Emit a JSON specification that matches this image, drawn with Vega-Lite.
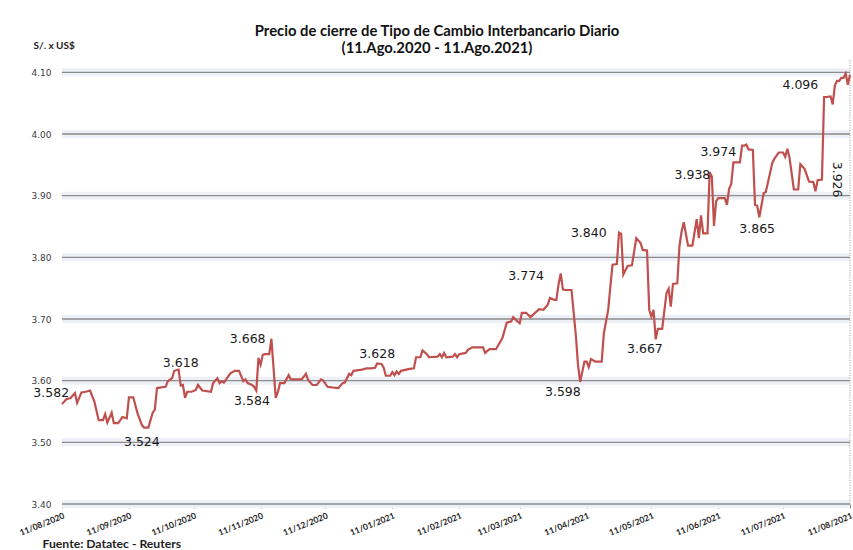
{
  "$schema": "https://vega.github.io/schema/vega-lite/v6.json",
  "width": 788,
  "height": 444,
  "autosize": {"type": "none"},
  "padding": {"left": 62, "top": 60, "right": 3, "bottom": 46},
  "background": "white",
  "config": {
    "view": {"stroke": null},
    "axisY": {
      "format": ".2f",
      "grid": false, "domain": false, "ticks": false,
      "labelFont": "DejaVu Sans", "labelFontSize": 9, "labelColor": "#404040", "labelPadding": 11,
      "titleAngle": 0, "titleX": -29, "titleY": -15,
      "titleAlign": "left", "titleBaseline": "middle",
      "titleFont": "Lato", "titleFontSize": 10, "titleFontWeight": "bold", "titleColor": "#222222"
    },
    "axisX": {
      "format": "%d/%m/%Y",
      "labelAngle": -22, "labelAlign": "right", "labelBaseline": "top",
      "labelFont": "Lato", "labelFontWeight": "bold", "labelFontSize": 8.5, "labelColor": "#222222",
      "labelPadding": 3, "labelOverlap": false, "labelBound": false,
      "tickSize": 4, "tickColor": "#8c8c8c", "domain": false, "grid": false,
      "titleX": -20, "titleY": 39,
      "titleAlign": "left", "titleBaseline": "middle",
      "titleFont": "Lato", "titleFontSize": 12.2, "titleFontWeight": "bold", "titleColor": "#222222"
    }
  },
  "title": {
    "text": ["Precio de cierre de Tipo de Cambio Interbancario  Diario", "(11.Ago.2020 - 11.Ago.2021)"],
    "font": "Lato",
    "fontSize": 14.8,
    "fontWeight": "bold",
    "color": "#111111",
    "lineHeight": 17,
    "anchor": "middle",
    "dx": -19,
    "offset": -16
  },
  "datasets": {
    "grid": [{"v": 3.4}, {"v": 3.5}, {"v": 3.6}, {"v": 3.7}, {"v": 3.8}, {"v": 3.9}, {"v": 4.0}, {"v": 4.1}],
    "edge": [{"d": "2021-08-11"}],
    "series": [
      {"d": "2020-08-11", "v": 3.562}, {"d": "2020-08-13", "v": 3.570}, {"d": "2020-08-15", "v": 3.572}, {"d": "2020-08-17", "v": 3.580},
      {"d": "2020-08-18", "v": 3.564}, {"d": "2020-08-20", "v": 3.581}, {"d": "2020-08-22", "v": 3.582}, {"d": "2020-08-24", "v": 3.584},
      {"d": "2020-08-26", "v": 3.566}, {"d": "2020-08-28", "v": 3.536}, {"d": "2020-08-30", "v": 3.536}, {"d": "2020-08-31", "v": 3.546},
      {"d": "2020-09-01", "v": 3.532}, {"d": "2020-09-03", "v": 3.548}, {"d": "2020-09-04", "v": 3.531}, {"d": "2020-09-06", "v": 3.531},
      {"d": "2020-09-08", "v": 3.541}, {"d": "2020-09-10", "v": 3.539}, {"d": "2020-09-11", "v": 3.573}, {"d": "2020-09-13", "v": 3.573},
      {"d": "2020-09-15", "v": 3.547}, {"d": "2020-09-17", "v": 3.528}, {"d": "2020-09-18", "v": 3.524}, {"d": "2020-09-20", "v": 3.524},
      {"d": "2020-09-22", "v": 3.548}, {"d": "2020-09-23", "v": 3.553}, {"d": "2020-09-24", "v": 3.588}, {"d": "2020-09-26", "v": 3.589},
      {"d": "2020-09-28", "v": 3.590}, {"d": "2020-09-29", "v": 3.599}, {"d": "2020-10-01", "v": 3.604}, {"d": "2020-10-02", "v": 3.616},
      {"d": "2020-10-04", "v": 3.618}, {"d": "2020-10-05", "v": 3.592}, {"d": "2020-10-06", "v": 3.593}, {"d": "2020-10-07", "v": 3.572},
      {"d": "2020-10-08", "v": 3.582}, {"d": "2020-10-10", "v": 3.582}, {"d": "2020-10-12", "v": 3.585}, {"d": "2020-10-13", "v": 3.593},
      {"d": "2020-10-15", "v": 3.584}, {"d": "2020-10-19", "v": 3.582}, {"d": "2020-10-20", "v": 3.596}, {"d": "2020-10-22", "v": 3.604},
      {"d": "2020-10-23", "v": 3.596}, {"d": "2020-10-24", "v": 3.599}, {"d": "2020-10-25", "v": 3.597}, {"d": "2020-10-27", "v": 3.607},
      {"d": "2020-10-28", "v": 3.612}, {"d": "2020-10-30", "v": 3.616}, {"d": "2020-11-01", "v": 3.616}, {"d": "2020-11-03", "v": 3.599},
      {"d": "2020-11-04", "v": 3.602}, {"d": "2020-11-05", "v": 3.596}, {"d": "2020-11-07", "v": 3.593}, {"d": "2020-11-08", "v": 3.590},
      {"d": "2020-11-09", "v": 3.584}, {"d": "2020-11-10", "v": 3.637}, {"d": "2020-11-11", "v": 3.626}, {"d": "2020-11-12", "v": 3.642},
      {"d": "2020-11-13", "v": 3.643}, {"d": "2020-11-15", "v": 3.643}, {"d": "2020-11-16", "v": 3.668}, {"d": "2020-11-17", "v": 3.620},
      {"d": "2020-11-18", "v": 3.572}, {"d": "2020-11-19", "v": 3.582}, {"d": "2020-11-20", "v": 3.596}, {"d": "2020-11-22", "v": 3.596},
      {"d": "2020-11-24", "v": 3.609}, {"d": "2020-11-25", "v": 3.602}, {"d": "2020-11-28", "v": 3.602}, {"d": "2020-11-30", "v": 3.602},
      {"d": "2020-12-02", "v": 3.611}, {"d": "2020-12-03", "v": 3.601}, {"d": "2020-12-05", "v": 3.593}, {"d": "2020-12-07", "v": 3.593},
      {"d": "2020-12-09", "v": 3.602}, {"d": "2020-12-10", "v": 3.600}, {"d": "2020-12-12", "v": 3.590}, {"d": "2020-12-14", "v": 3.589},
      {"d": "2020-12-17", "v": 3.588}, {"d": "2020-12-19", "v": 3.596}, {"d": "2020-12-20", "v": 3.597}, {"d": "2020-12-22", "v": 3.611},
      {"d": "2020-12-23", "v": 3.609}, {"d": "2020-12-24", "v": 3.616}, {"d": "2020-12-28", "v": 3.618}, {"d": "2020-12-30", "v": 3.620},
      {"d": "2021-01-01", "v": 3.620}, {"d": "2021-01-03", "v": 3.621}, {"d": "2021-01-04", "v": 3.628}, {"d": "2021-01-06", "v": 3.627},
      {"d": "2021-01-07", "v": 3.621}, {"d": "2021-01-08", "v": 3.608}, {"d": "2021-01-10", "v": 3.608}, {"d": "2021-01-11", "v": 3.614},
      {"d": "2021-01-12", "v": 3.609}, {"d": "2021-01-13", "v": 3.615}, {"d": "2021-01-14", "v": 3.611}, {"d": "2021-01-15", "v": 3.616},
      {"d": "2021-01-19", "v": 3.619}, {"d": "2021-01-21", "v": 3.620}, {"d": "2021-01-22", "v": 3.638}, {"d": "2021-01-24", "v": 3.638},
      {"d": "2021-01-25", "v": 3.649}, {"d": "2021-01-27", "v": 3.643}, {"d": "2021-01-28", "v": 3.638}, {"d": "2021-02-01", "v": 3.639},
      {"d": "2021-02-02", "v": 3.643}, {"d": "2021-02-03", "v": 3.638}, {"d": "2021-02-04", "v": 3.645}, {"d": "2021-02-05", "v": 3.638},
      {"d": "2021-02-08", "v": 3.639}, {"d": "2021-02-09", "v": 3.643}, {"d": "2021-02-10", "v": 3.638}, {"d": "2021-02-11", "v": 3.643},
      {"d": "2021-02-14", "v": 3.645}, {"d": "2021-02-15", "v": 3.650}, {"d": "2021-02-17", "v": 3.654}, {"d": "2021-02-22", "v": 3.654},
      {"d": "2021-02-23", "v": 3.645}, {"d": "2021-02-25", "v": 3.651}, {"d": "2021-02-28", "v": 3.651}, {"d": "2021-03-03", "v": 3.669},
      {"d": "2021-03-05", "v": 3.694}, {"d": "2021-03-07", "v": 3.696}, {"d": "2021-03-08", "v": 3.703}, {"d": "2021-03-10", "v": 3.696},
      {"d": "2021-03-11", "v": 3.693}, {"d": "2021-03-12", "v": 3.710}, {"d": "2021-03-14", "v": 3.710}, {"d": "2021-03-16", "v": 3.703},
      {"d": "2021-03-20", "v": 3.716}, {"d": "2021-03-22", "v": 3.715}, {"d": "2021-03-24", "v": 3.723}, {"d": "2021-03-25", "v": 3.734},
      {"d": "2021-03-27", "v": 3.731}, {"d": "2021-03-28", "v": 3.731}, {"d": "2021-03-29", "v": 3.756}, {"d": "2021-03-30", "v": 3.774},
      {"d": "2021-03-31", "v": 3.748}, {"d": "2021-04-01", "v": 3.747}, {"d": "2021-04-04", "v": 3.747}, {"d": "2021-04-06", "v": 3.674},
      {"d": "2021-04-07", "v": 3.626}, {"d": "2021-04-08", "v": 3.598}, {"d": "2021-04-10", "v": 3.631}, {"d": "2021-04-11", "v": 3.631},
      {"d": "2021-04-12", "v": 3.622}, {"d": "2021-04-13", "v": 3.635}, {"d": "2021-04-15", "v": 3.631}, {"d": "2021-04-18", "v": 3.631},
      {"d": "2021-04-19", "v": 3.677}, {"d": "2021-04-21", "v": 3.715}, {"d": "2021-04-22", "v": 3.753}, {"d": "2021-04-23", "v": 3.788},
      {"d": "2021-04-25", "v": 3.789}, {"d": "2021-04-26", "v": 3.840}, {"d": "2021-04-27", "v": 3.838}, {"d": "2021-04-28", "v": 3.772},
      {"d": "2021-04-30", "v": 3.786}, {"d": "2021-05-02", "v": 3.787}, {"d": "2021-05-04", "v": 3.831}, {"d": "2021-05-06", "v": 3.823},
      {"d": "2021-05-07", "v": 3.812}, {"d": "2021-05-09", "v": 3.811}, {"d": "2021-05-10", "v": 3.715}, {"d": "2021-05-11", "v": 3.704},
      {"d": "2021-05-12", "v": 3.715}, {"d": "2021-05-13", "v": 3.667}, {"d": "2021-05-14", "v": 3.684}, {"d": "2021-05-16", "v": 3.684},
      {"d": "2021-05-18", "v": 3.742}, {"d": "2021-05-19", "v": 3.749}, {"d": "2021-05-20", "v": 3.720}, {"d": "2021-05-21", "v": 3.757},
      {"d": "2021-05-23", "v": 3.758}, {"d": "2021-05-24", "v": 3.818}, {"d": "2021-05-25", "v": 3.842}, {"d": "2021-05-26", "v": 3.857},
      {"d": "2021-05-28", "v": 3.819}, {"d": "2021-05-30", "v": 3.819}, {"d": "2021-06-01", "v": 3.862}, {"d": "2021-06-02", "v": 3.831},
      {"d": "2021-06-03", "v": 3.868}, {"d": "2021-06-04", "v": 3.839}, {"d": "2021-06-06", "v": 3.839}, {"d": "2021-06-07", "v": 3.938},
      {"d": "2021-06-08", "v": 3.931}, {"d": "2021-06-09", "v": 3.851}, {"d": "2021-06-10", "v": 3.891}, {"d": "2021-06-11", "v": 3.896},
      {"d": "2021-06-14", "v": 3.896}, {"d": "2021-06-15", "v": 3.885}, {"d": "2021-06-16", "v": 3.911}, {"d": "2021-06-17", "v": 3.919},
      {"d": "2021-06-18", "v": 3.954}, {"d": "2021-06-21", "v": 3.954}, {"d": "2021-06-22", "v": 3.981}, {"d": "2021-06-23", "v": 3.981},
      {"d": "2021-06-24", "v": 3.983}, {"d": "2021-06-25", "v": 3.975}, {"d": "2021-06-27", "v": 3.974}, {"d": "2021-06-28", "v": 3.885},
      {"d": "2021-06-29", "v": 3.884}, {"d": "2021-06-30", "v": 3.865}, {"d": "2021-07-02", "v": 3.904}, {"d": "2021-07-03", "v": 3.906},
      {"d": "2021-07-05", "v": 3.937}, {"d": "2021-07-06", "v": 3.953}, {"d": "2021-07-07", "v": 3.960}, {"d": "2021-07-09", "v": 3.970},
      {"d": "2021-07-11", "v": 3.970}, {"d": "2021-07-12", "v": 3.963}, {"d": "2021-07-13", "v": 3.976}, {"d": "2021-07-14", "v": 3.961},
      {"d": "2021-07-16", "v": 3.910}, {"d": "2021-07-18", "v": 3.910}, {"d": "2021-07-19", "v": 3.951}, {"d": "2021-07-21", "v": 3.943},
      {"d": "2021-07-23", "v": 3.923}, {"d": "2021-07-25", "v": 3.922}, {"d": "2021-07-26", "v": 3.907}, {"d": "2021-07-27", "v": 3.925},
      {"d": "2021-07-29", "v": 3.926}, {"d": "2021-07-30", "v": 4.060}, {"d": "2021-07-31", "v": 4.060}, {"d": "2021-08-02", "v": 4.061},
      {"d": "2021-08-03", "v": 4.048}, {"d": "2021-08-04", "v": 4.079}, {"d": "2021-08-05", "v": 4.086}, {"d": "2021-08-06", "v": 4.086},
      {"d": "2021-08-07", "v": 4.091}, {"d": "2021-08-08", "v": 4.091}, {"d": "2021-08-09", "v": 4.098}, {"d": "2021-08-10", "v": 4.080},
      {"d": "2021-08-11", "v": 4.096}
    ],
    "labels": [
      {"d": "2020-08-06", "v": 3.580, "t": "3.582"},
      {"d": "2020-09-17", "v": 3.501, "t": "3.524"},
      {"d": "2020-10-05", "v": 3.629, "t": "3.618"},
      {"d": "2020-11-05", "v": 3.668, "t": "3.668"},
      {"d": "2020-11-07", "v": 3.567, "t": "3.584"},
      {"d": "2021-01-04", "v": 3.644, "t": "3.628"},
      {"d": "2021-03-14", "v": 3.770, "t": "3.774"},
      {"d": "2021-03-31", "v": 3.581, "t": "3.598"},
      {"d": "2021-04-12", "v": 3.839, "t": "3.840"},
      {"d": "2021-05-08", "v": 3.651, "t": "3.667"},
      {"d": "2021-05-30", "v": 3.934, "t": "3.938"},
      {"d": "2021-06-11", "v": 3.971, "t": "3.974"},
      {"d": "2021-06-29", "v": 3.846, "t": "3.865"},
      {"d": "2021-07-19", "v": 4.079, "t": "4.096"}
    ],
    "vlabels": [
      {"d": "2021-08-05", "v": 3.926, "t": "3.926"}
    ]
  },
  "layer": [
    {
      "data": {"name": "grid"},
      "mark": {"type": "rule", "color": "#edf0f6", "strokeWidth": 8},
      "encoding": {
        "y": {
          "field": "v", "type": "quantitative", "title": "S/. x US$",
          "scale": {"domain": [3.4, 4.12], "nice": false, "zero": false},
          "axis": {"values": [3.4, 3.5, 3.6, 3.7, 3.8, 3.9, 4.0, 4.1]}
        }
      }
    },
    {
      "data": {"name": "grid"},
      "mark": {"type": "rule", "color": "#8c8c8c", "strokeWidth": 1.3},
      "encoding": {
        "y": {
          "field": "v", "type": "quantitative", "title": "S/. x US$",
          "scale": {"domain": [3.4, 4.12], "nice": false, "zero": false},
          "axis": {"values": [3.4, 3.5, 3.6, 3.7, 3.8, 3.9, 4.0, 4.1]}
        }
      }
    },
    {
      "data": {"name": "edge"},
      "mark": {"type": "rule", "color": "#9a9a9a", "strokeWidth": 1, "strokeDash": [1, 1.5]},
      "encoding": {
        "x": {
          "field": "d", "type": "temporal", "title": "Fuente: Datatec - Reuters",
          "scale": {"type": "utc", "domain": [{"year": 2020, "month": 8, "date": 11, "utc": true}, {"year": 2021, "month": 8, "date": 11, "utc": true}]},
          "axis": {"values": [
            {"year": 2020, "month": 8, "date": 11, "utc": true}, {"year": 2020, "month": 9, "date": 11, "utc": true},
            {"year": 2020, "month": 10, "date": 11, "utc": true}, {"year": 2020, "month": 11, "date": 11, "utc": true},
            {"year": 2020, "month": 12, "date": 11, "utc": true}, {"year": 2021, "month": 1, "date": 11, "utc": true},
            {"year": 2021, "month": 2, "date": 11, "utc": true}, {"year": 2021, "month": 3, "date": 11, "utc": true},
            {"year": 2021, "month": 4, "date": 11, "utc": true}, {"year": 2021, "month": 5, "date": 11, "utc": true},
            {"year": 2021, "month": 6, "date": 11, "utc": true}, {"year": 2021, "month": 7, "date": 11, "utc": true},
            {"year": 2021, "month": 8, "date": 11, "utc": true}
          ]}
        }
      }
    },
    {
      "data": {"name": "series"},
      "mark": {"type": "line", "color": "#c0504d", "strokeWidth": 2.2},
      "encoding": {
        "x": {
          "field": "d", "type": "temporal", "title": "Fuente: Datatec - Reuters",
          "scale": {"type": "utc", "domain": [{"year": 2020, "month": 8, "date": 11, "utc": true}, {"year": 2021, "month": 8, "date": 11, "utc": true}]},
          "axis": {"values": [
            {"year": 2020, "month": 8, "date": 11, "utc": true}, {"year": 2020, "month": 9, "date": 11, "utc": true},
            {"year": 2020, "month": 10, "date": 11, "utc": true}, {"year": 2020, "month": 11, "date": 11, "utc": true},
            {"year": 2020, "month": 12, "date": 11, "utc": true}, {"year": 2021, "month": 1, "date": 11, "utc": true},
            {"year": 2021, "month": 2, "date": 11, "utc": true}, {"year": 2021, "month": 3, "date": 11, "utc": true},
            {"year": 2021, "month": 4, "date": 11, "utc": true}, {"year": 2021, "month": 5, "date": 11, "utc": true},
            {"year": 2021, "month": 6, "date": 11, "utc": true}, {"year": 2021, "month": 7, "date": 11, "utc": true},
            {"year": 2021, "month": 8, "date": 11, "utc": true}
          ]}
        },
        "y": {
          "field": "v", "type": "quantitative", "title": "S/. x US$",
          "scale": {"domain": [3.4, 4.12], "nice": false, "zero": false},
          "axis": {"values": [3.4, 3.5, 3.6, 3.7, 3.8, 3.9, 4.0, 4.1]}
        }
      }
    },
    {
      "data": {"name": "labels"},
      "mark": {"type": "text", "font": "DejaVu Sans", "fontSize": 12.5, "color": "#1a1a1a", "align": "center", "baseline": "middle"},
      "encoding": {
        "x": {
          "field": "d", "type": "temporal", "title": "Fuente: Datatec - Reuters",
          "scale": {"type": "utc", "domain": [{"year": 2020, "month": 8, "date": 11, "utc": true}, {"year": 2021, "month": 8, "date": 11, "utc": true}]},
          "axis": {"values": [
            {"year": 2020, "month": 8, "date": 11, "utc": true}, {"year": 2020, "month": 9, "date": 11, "utc": true},
            {"year": 2020, "month": 10, "date": 11, "utc": true}, {"year": 2020, "month": 11, "date": 11, "utc": true},
            {"year": 2020, "month": 12, "date": 11, "utc": true}, {"year": 2021, "month": 1, "date": 11, "utc": true},
            {"year": 2021, "month": 2, "date": 11, "utc": true}, {"year": 2021, "month": 3, "date": 11, "utc": true},
            {"year": 2021, "month": 4, "date": 11, "utc": true}, {"year": 2021, "month": 5, "date": 11, "utc": true},
            {"year": 2021, "month": 6, "date": 11, "utc": true}, {"year": 2021, "month": 7, "date": 11, "utc": true},
            {"year": 2021, "month": 8, "date": 11, "utc": true}
          ]}
        },
        "y": {
          "field": "v", "type": "quantitative", "title": "S/. x US$",
          "scale": {"domain": [3.4, 4.12], "nice": false, "zero": false},
          "axis": {"values": [3.4, 3.5, 3.6, 3.7, 3.8, 3.9, 4.0, 4.1]}
        },
        "text": {"field": "t", "type": "nominal"}
      }
    },
    {
      "data": {"name": "vlabels"},
      "mark": {"type": "text", "font": "DejaVu Sans", "fontSize": 12.5, "color": "#1a1a1a", "align": "center", "baseline": "middle", "angle": 90},
      "encoding": {
        "x": {
          "field": "d", "type": "temporal", "title": "Fuente: Datatec - Reuters",
          "scale": {"type": "utc", "domain": [{"year": 2020, "month": 8, "date": 11, "utc": true}, {"year": 2021, "month": 8, "date": 11, "utc": true}]},
          "axis": {"values": [
            {"year": 2020, "month": 8, "date": 11, "utc": true}, {"year": 2020, "month": 9, "date": 11, "utc": true},
            {"year": 2020, "month": 10, "date": 11, "utc": true}, {"year": 2020, "month": 11, "date": 11, "utc": true},
            {"year": 2020, "month": 12, "date": 11, "utc": true}, {"year": 2021, "month": 1, "date": 11, "utc": true},
            {"year": 2021, "month": 2, "date": 11, "utc": true}, {"year": 2021, "month": 3, "date": 11, "utc": true},
            {"year": 2021, "month": 4, "date": 11, "utc": true}, {"year": 2021, "month": 5, "date": 11, "utc": true},
            {"year": 2021, "month": 6, "date": 11, "utc": true}, {"year": 2021, "month": 7, "date": 11, "utc": true},
            {"year": 2021, "month": 8, "date": 11, "utc": true}
          ]}
        },
        "y": {
          "field": "v", "type": "quantitative", "title": "S/. x US$",
          "scale": {"domain": [3.4, 4.12], "nice": false, "zero": false},
          "axis": {"values": [3.4, 3.5, 3.6, 3.7, 3.8, 3.9, 4.0, 4.1]}
        },
        "text": {"field": "t", "type": "nominal"}
      }
    }
  ]
}
